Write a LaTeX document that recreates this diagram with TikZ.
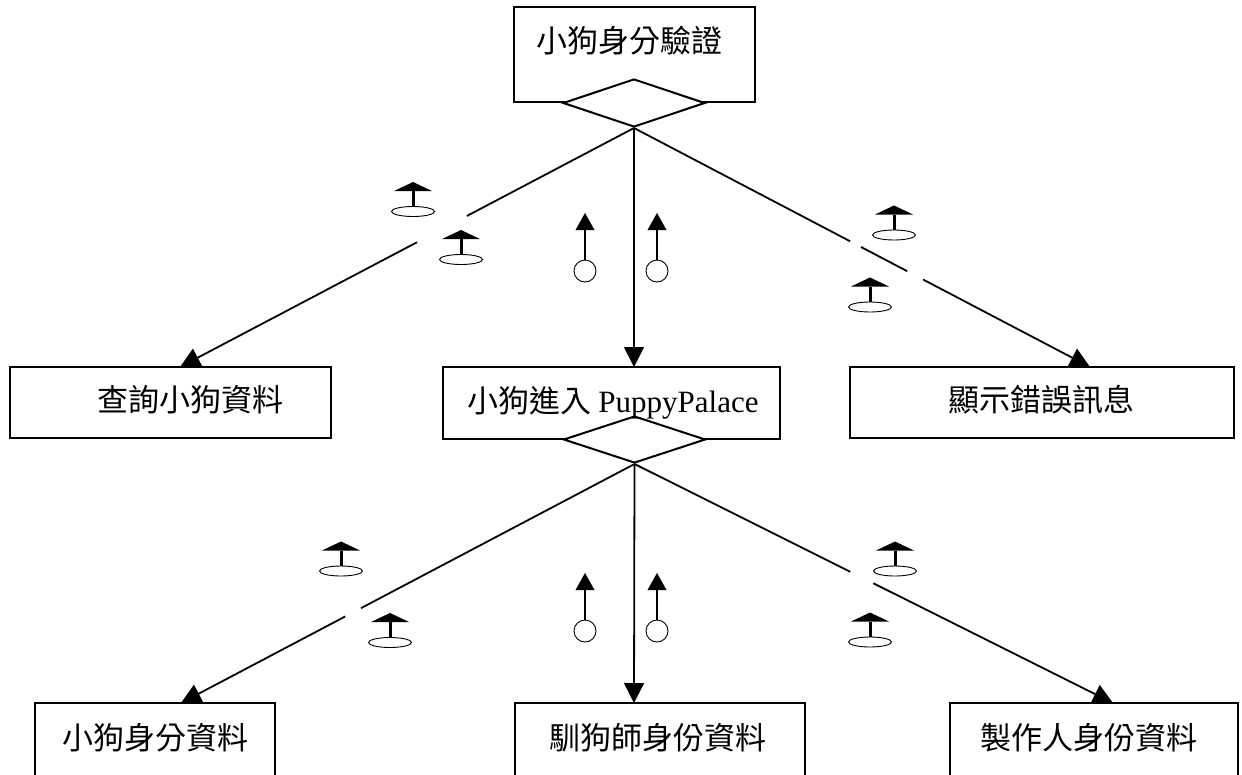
\documentclass[tikz,border=0pt]{standalone}
\usepackage{fontspec}
\setmainfont{Liberation Serif}
\newfontfamily\cjk{Noto Sans CJK TC}
\usetikzlibrary{arrows.meta,shapes.geometric,calc}
\begin{document}
\begin{tikzpicture}[x=1pt,y=-1pt,
  box/.style={draw,line width=2pt,inner sep=0pt,fill=white},
  dia/.style={draw,line width=2pt,fill=white,diamond,inner sep=0pt,minimum width=142pt,minimum height=47pt},
  lbl/.style={font=\cjk\fontsize{31}{36}\selectfont,inner sep=0pt,text height=0.88em,text depth=0.12em},
  conn/.style={line width=1.8pt},
  connarr/.style={line width=1.8pt,-{Triangle[length=20pt,width=20pt]}},
  flag/.pic={
    \draw[line width=0.9pt] (0,0) ellipse [x radius=21.5pt,y radius=5pt];
    \draw[line width=3pt] (0,-5) -- (0,-20.5);
    \fill (-19,-20.5) -- (19,-20.5) -- (0,-29.5) -- cycle;
  },
  couple/.pic={
    \draw[line width=0.9pt] (0,0) circle (11pt);
    \draw[line width=1.5pt] (0,-11) -- (0,-41);
    \fill (-9.5,-41) -- (9.5,-41) -- (0,-58) -- cycle;
  }]
\useasboundingbox (0,0) rectangle (1242,774);
\clip (0,0) rectangle (1242,774);

% boxes
\node[box,minimum width=241pt,minimum height=95pt] (top) at (634.5,54.5) {};
\node[box,minimum width=321pt,minimum height=71pt] (query) at (170.5,402.5) {};
\node[box,minimum width=337pt,minimum height=72pt] (enter) at (611.5,403) {};
\node[box,minimum width=384pt,minimum height=71pt] (error) at (1042,402.5) {};
\node[box,minimum width=240pt,minimum height=100pt] (pid) at (155,753) {};
\node[box,minimum width=290pt,minimum height=100pt] (trainer) at (660,753) {};
\node[box,minimum width=288pt,minimum height=100pt] (maker) at (1094,753) {};

% diamonds
\node[dia,minimum height=48pt] (topd) at (634,103) {};
\node[dia] (entd) at (634.5,439.5) {};

% labels
\node[lbl] (toplbl) at (629,49) {小狗身分驗證};
\node[lbl] (querylbl) at (190,408) {查詢小狗資料};
\node[lbl] (enterlbl) at (613,409) {小狗進入 {\rmfamily PuppyPalace}};
\node[lbl] (errorlbl) at (1041,408) {顯示錯誤訊息};
\node[lbl] (pidlbl) at (155,746) {小狗身分資料};
\node[lbl] (trainerlbl) at (658,746) {馴狗師身份資料};
\node[lbl] (makerlbl) at (1089,746) {製作人身份資料};

% arrow targets
\coordinate (t1) at (180,367);
\coordinate (t2) at (634,367);
\coordinate (t3) at (1090,367);
\coordinate (b1) at (181,703);
\coordinate (b2) at (634,703);
\coordinate (b3) at (1113,703);

% top level connectors
\draw[conn] (topd.south) -- ($(topd.south)!0.368!(t1)$);
\draw[connarr] ($(topd.south)!0.478!(t1)$) -- (t1);
\draw[connarr] (topd.south) -- (t2);
\draw[conn] (topd.south) -- ($(topd.south)!0.474!(t3)$);
\draw[conn] ($(topd.south)!0.498!(t3)$) -- ($(topd.south)!0.599!(t3)$);
\draw[connarr] ($(topd.south)!0.634!(t3)$) -- (t3);

% bottom level connectors
\draw[conn] (entd.south) -- ($(entd.south)!0.603!(b1)$);
\draw[connarr] ($(entd.south)!0.638!(b1)$) -- (b1);
\draw[connarr] (entd.south) -- (b2);
\draw[conn] (entd.south) -- ($(entd.south)!0.451!(b3)$);
\draw[connarr] ($(entd.south)!0.499!(b3)$) -- (b3);

% couples, top level
\pic at (413,211.5) {flag};
\pic at (461,259.5) {flag};
\pic at (894,235) {flag};
\pic at (870,307) {flag};
\pic at (585,271) {couple};
\pic at (657,271) {couple};

% couples, bottom level
\pic at (341,571) {flag};
\pic at (390,642.5) {flag};
\pic at (895,571) {flag};
\pic at (870,642) {flag};
\pic at (585,631) {couple};
\pic at (657,631) {couple};
\end{tikzpicture}
\end{document}
